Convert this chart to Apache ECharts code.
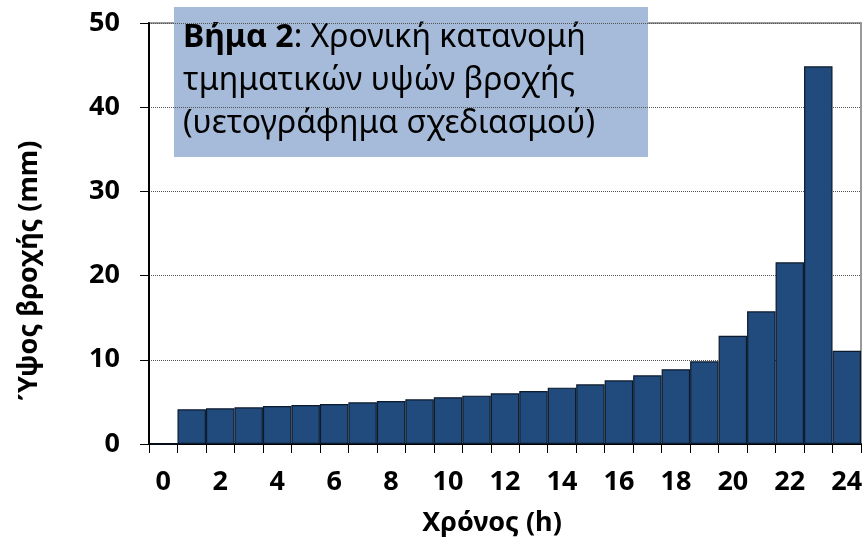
<!DOCTYPE html>
<html>
<head>
<meta charset="utf-8">
<script src="https://cdn.jsdelivr.net/npm/echarts@6/dist/echarts.min.js"></script>
<style>html,body{margin:0;padding:0;background:#fff}#c{width:867px;height:539px}</style>
</head>
<body>
<div id="c"></div>
<script>
const categories = ['0','1','2','3','4','5','6','7','8','9','10','11','12','13','14','15','16','17','18','19','20','21','22','23','24'];
const rainfall = [0, 4.12, 4.24, 4.35, 4.51, 4.63, 4.75, 4.95, 5.1, 5.3, 5.55, 5.74, 6.02, 6.29, 6.69, 7.09, 7.56, 8.16, 8.88, 9.82, 12.86, 15.76, 21.58, 44.86, 11.08];
const yTicks = [0, 10, 20, 30, 40, 50];
const xTitle = 'Χρόνος (h)';
const yTitle = 'Ύψος βροχής (mm)';
const boxLines = ['Χρονική κατανομή', 'τμηματικών υψών βροχής', '(υετογράφημα σχεδιασμού)'];

const FONT = '"Noto Sans", "Open Sans", sans-serif';
const chart = echarts.init(document.getElementById('c'), null, {renderer: 'canvas'});
chart.setOption({
  animation: false,
  backgroundColor: '#ffffff',
  grid: {left: 149, right: 6, top: 23, bottom: 95, containLabel: false, outerBoundsMode: 'none', show: true, borderColor: '#9a9a9a', borderWidth: 2, backgroundColor: 'transparent'},
  xAxis: {
    type: 'category',
    data: categories,
    boundaryGap: true,
    name: xTitle,
    nameLocation: 'middle',
    nameGap: 66,
    nameTextStyle: {fontFamily: FONT, fontWeight: 'bold', fontSize: 27, color: '#000', padding: [0, 26, 0, 0]},
    axisLine: {lineStyle: {color: '#000', width: 2}},
    axisTick: {show: true, interval: 0, length: 9, lineStyle: {color: '#000', width: 1}},
    axisLabel: {interval: 1, margin: 25, fontFamily: FONT, fontWeight: 'bold', fontSize: 27, color: '#000'},
    splitLine: {show: false}
  },
  yAxis: {
    type: 'value',
    min: yTicks[0],
    max: yTicks[yTicks.length - 1],
    interval: 10,
    name: yTitle,
    nameLocation: 'middle',
    nameGap: 106,
    nameRotate: 90,
    nameTextStyle: {fontFamily: FONT, fontWeight: 'bold', fontSize: 27, color: '#000', padding: [0, 74, 0, 0]},
    axisLine: {show: true, lineStyle: {color: '#000', width: 2}},
    axisTick: {show: true, length: 9, lineStyle: {color: '#000', width: 1}},
    axisLabel: {margin: 29, fontFamily: FONT, fontWeight: 'bold', fontSize: 27, color: '#000'},
    splitLine: {show: true, lineStyle: {color: '#555', width: 1, type: [1, 1]}}
  },
  series: [{
    type: 'bar',
    data: rainfall,
    barCategoryGap: '0%',
    itemStyle: {color: '#214a7d', borderColor: '#0b1a2c', borderWidth: 1.2},
    z: 3
  }],
  graphic: [{
    type: 'group',
    left: 174,
    top: 7,
    z: 100,
    children: [
      {type: 'rect', shape: {x: 0, y: 0, width: 474, height: 150}, style: {fill: '#a6bbd9'}},
      {type: 'text', x: 9, y: 9, style: {
        text: '{b|Βήμα 2}: ' + boxLines[0] + '\n' + boxLines[1] + '\n' + boxLines[2],
        fontFamily: FONT, fontSize: 32, lineHeight: 43, fill: '#000',
        rich: {b: {fontFamily: FONT, fontSize: 32, fontWeight: 'bold', lineHeight: 43, fill: '#000'}}
      }}
    ]
  }]
});
</script>
</body>
</html>
